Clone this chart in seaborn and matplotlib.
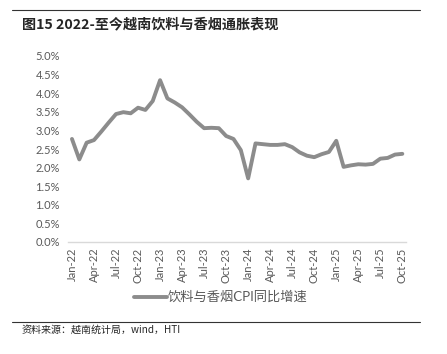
import numpy as np
import pandas as pd
import matplotlib.pyplot as plt
import seaborn as sns
from matplotlib.lines import Line2D

sns.set_style("white")
plt.rcParams['font.family'] = ['Lato', 'Noto Sans CJK SC', 'DejaVu Sans']

# Monthly data, Jan-22 .. Oct-25
months = pd.date_range("2022-01-01", "2025-10-01", freq="MS")
cpi_yoy = [2.77, 2.22, 2.67, 2.74, 2.97, 3.21, 3.44, 3.49, 3.46, 3.61, 3.55, 3.79,
           4.35, 3.86, 3.75, 3.62, 3.43, 3.23, 3.06, 3.07, 3.06, 2.85, 2.77, 2.47,
           1.71, 2.65, 2.63, 2.61, 2.61, 2.63, 2.55, 2.41, 2.32, 2.28, 2.36, 2.42,
           2.72, 2.02, 2.06, 2.09, 2.08, 2.10, 2.24, 2.26, 2.35, 2.37]
series_name = "饮料与香烟CPI同比增速"
title = "图15 2022-至今越南饮料与香烟通胀表现"
source = "资料来源：越南统计局，wind，HTI"

df = pd.DataFrame({"idx": np.arange(len(months)), "value": cpi_yoy})
tick_labels = [m.strftime("%b-%y") for m in months]

W, H = 447, 354
fig = plt.figure(figsize=(W / 100, H / 100), dpi=100)
ax = fig.add_axes([68.3 / W, 1 - 242 / H, (406 - 68.3) / W, (242 - 56) / H])

line_color = "#8c8c8c"
sns.lineplot(data=df, x="idx", y="value", ax=ax, color=line_color, linewidth=2.8,
             legend=False)

ax.set_xlim(-0.5, len(months) - 0.5)
ax.set_ylim(0, 5)
ax.set_yticks(np.arange(0, 5.01, 0.5))
ax.set_yticklabels([f"{v:.1f}%" for v in np.arange(0, 5.01, 0.5)])
ax.set_xticks(np.arange(0, len(months), 3))
ax.set_xticklabels(tick_labels[::3], rotation=90)
ax.set_xticks(np.arange(-0.5, len(months), 3), minor=True)
ax.set_xlabel("")
ax.set_ylabel("")

for s in ["top", "right", "left"]:
    ax.spines[s].set_visible(False)
ax.spines["bottom"].set_color("#d9d9d9")
ax.spines["bottom"].set_linewidth(1)
ax.tick_params(axis="x", which="major", length=0, pad=4, labelsize=8, labelcolor="#595959")
ax.tick_params(axis="x", which="minor", length=4, color="#d9d9d9", width=1, direction="out")
ax.tick_params(axis="y", length=0, pad=6, labelsize=8, labelcolor="#595959")

handle = Line2D([0], [0], color=line_color, linewidth=2.8)
leg = fig.legend([handle], [series_name], loc="center", bbox_to_anchor=(221 / W, 1 - 297 / H),
                 frameon=False, fontsize=9.5, handlelength=2.5, handletextpad=0.05,
                 labelcolor="#595959")

# header / footer rules and texts
fig.add_artist(Line2D([12 / W, 420 / W], [1 - 9.5 / H] * 2, color="#333333", linewidth=0.8))
fig.add_artist(Line2D([12 / W, 420 / W], [1 - 322 / H] * 2, color="#333333", linewidth=0.8))
fig.text(22 / W, 1 - 24 / H, title, fontsize=10.2, fontweight="bold", va="center", ha="left",
         family=['Noto Sans CJK SC', 'DejaVu Sans'])
fig.text(22 / W, 1 - 330 / H, source, fontsize=7.2, va="center", ha="left",
         family=['Noto Sans CJK SC', 'DejaVu Sans'])

fig.savefig("out.png", dpi=100)
